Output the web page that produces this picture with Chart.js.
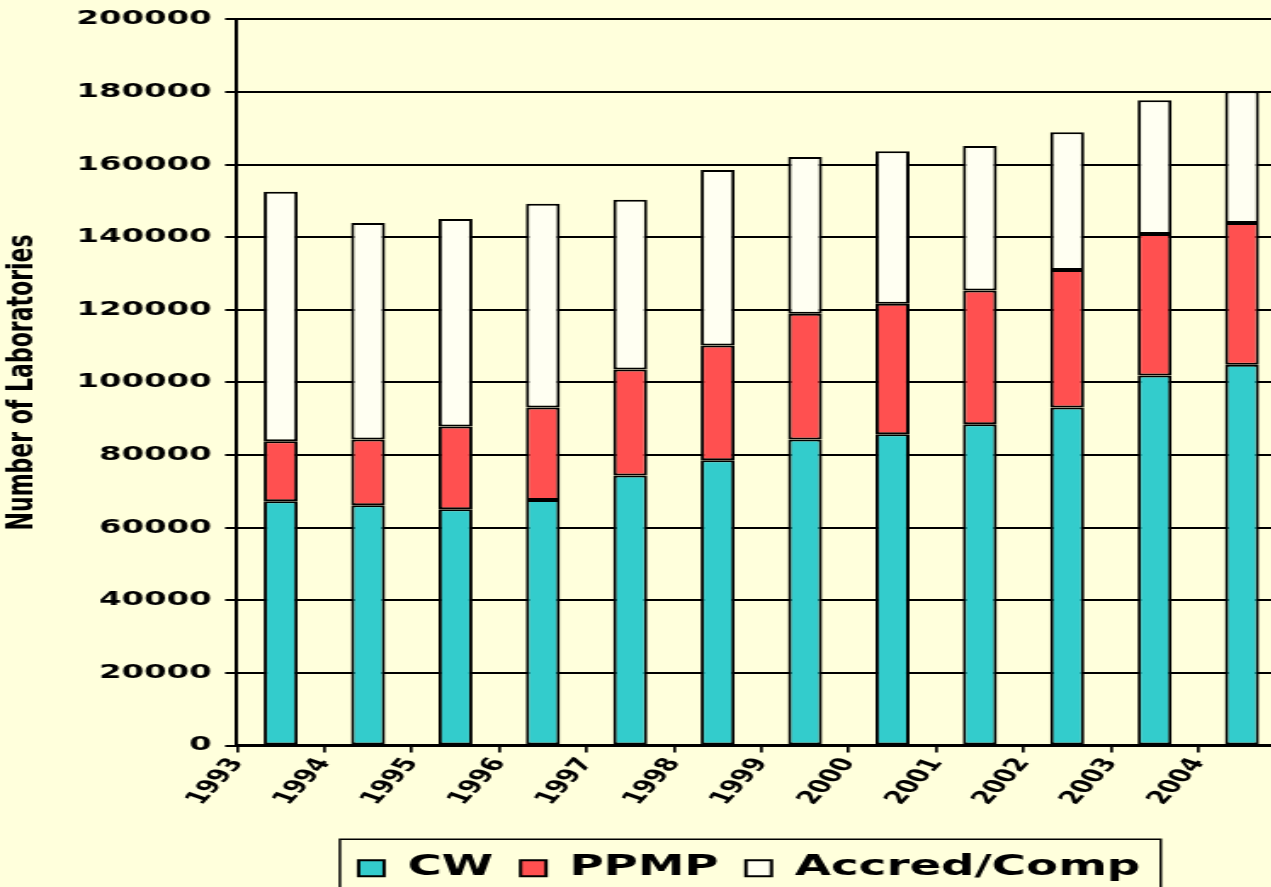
<!DOCTYPE html>
<html><head><meta charset="utf-8">
<script src="https://cdn.jsdelivr.net/npm/chart.js@4/dist/chart.umd.min.js"></script>
<style>
html,body{margin:0;padding:0;background:#FFFFDC;overflow:hidden;width:1271px;height:887px}
#wrap{position:absolute;left:0;top:0;width:777px;height:892px;transform:scaleX(1.7);transform-origin:0 0}
canvas{display:block}
</style></head><body>
<div id="wrap"><canvas id="c" width="777" height="892"></canvas></div>
<script>
const years = ['1993','1994','1995','1996','1997','1998','1999','2000','2001','2002','2003','2004'];
const cw     = [67300, 66200, 65100, 67600, 74400, 78600, 84300, 85700, 88500, 93100, 101900, 104900];
const ppmp   = [16500, 18100, 22800, 25500, 29200, 31600, 34600, 36000, 36800, 37900, 39000, 39000];
const accred = [68700, 59600, 57100, 56100, 46700, 48300, 43200, 42000, 39800, 37900, 36800, 36300];
const yMin = 0, yMax = 200000, yStep = 20000;

const FONT = "'DejaVu Sans', Verdana, sans-serif";

const legendShift = {
  id: 'legendShift',
  afterLayout(chart) {
    const lg = chart.legend;
    if (lg) { lg.left -= 7; lg.right -= 7; }
  }
};

const legendBorder = {
  id: 'legendBorder',
  afterDraw(chart) {
    const lg = chart.legend;
    const hb = lg && lg.legendHitBoxes;
    if (!hb || !hb.length) return;
    const l = Math.min(...hb.map(h => h.left)) - 11;
    const r = Math.max(...hb.map(h => h.left + h.width)) + 12;
    const cy = hb[0].top + hb[0].height / 2;
    const t = cy - 29;
    const ctx = chart.ctx;
    ctx.save();
    ctx.strokeStyle = '#000';
    ctx.lineWidth = 1.5;
    ctx.strokeRect(l, t, r - l, chart.height - t + 20);
    ctx.restore();
  }
};

new Chart(document.getElementById('c'), {
  type: 'bar',
  data: {
    labels: years,
    datasets: [
      { label: 'CW', data: cw, backgroundColor: '#33CCCC', borderColor: '#000', borderWidth: 2 },
      { label: 'PPMP', data: ppmp, backgroundColor: '#FF5050', borderColor: '#000', borderWidth: 2 },
      { label: 'Accred/Comp', data: accred, backgroundColor: '#FFFFF2', borderColor: '#000', borderWidth: 2 }
    ]
  },
  options: {
    responsive: false,
    animation: false,
    devicePixelRatio: 1,
    layout: { padding: { top: 17, left: 0, right: 6, bottom: 0 } },
    datasets: { bar: { categoryPercentage: 1.0, barPercentage: 0.39, borderSkipped: false } },
    scales: {
      x: {
        stacked: true,
        display: false,
        offset: true
      },
      xl: {
        type: 'linear',
        position: 'bottom',
        min: 0,
        max: years.length,
        offset: false,
        afterFit: (s) => { s.height = 93; },
        border: { display: true, color: '#000', width: 3 },
        grid: { display: true, offset: false, drawOnChartArea: false, drawTicks: true, tickLength: 7, color: '#000', lineWidth: 1.7 },
        ticks: {
          stepSize: 1,
          autoSkip: false,
          minRotation: 60,
          maxRotation: 60,
          padding: 2,
          color: '#000',
          font: { family: FONT, size: 18, weight: 'bold' },
          callback: (v) => (years[v] !== undefined ? years[v] : '')
        }
      },
      y: {
        stacked: true,
        min: yMin,
        max: yMax,
        afterFit: (s) => { s.width = 139.4; },
        border: { display: true, color: '#000', width: 2 },
        grid: { color: '#000', lineWidth: 2, drawTicks: true, tickLength: 7 },
        ticks: {
          stepSize: yStep,
          padding: 8,
          color: '#000',
          font: { family: FONT, size: 19, weight: 'bold' },
          callback: (v) => String(v)
        },
        title: {
          display: true,
          text: 'Number of Laboratories',
          color: '#000',
          font: { family: FONT, size: 22, weight: 'bold' },
          padding: { top: 0, bottom: 0 }
        }
      }
    },
    plugins: {
      legend: {
        position: 'bottom',
        fullSize: false,
        labels: {
          color: '#000',
          boxWidth: 15,
          boxHeight: 16,
          padding: 16,
          font: { family: FONT, size: 27.5, weight: 'bold' }
        }
      },
      tooltip: { enabled: false }
    }
  },
  plugins: [legendShift, legendBorder]
});
</script>
</body></html>
